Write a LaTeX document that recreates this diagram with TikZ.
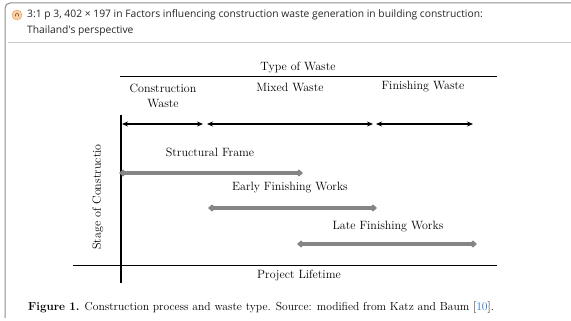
\documentclass[tikz,border=0pt]{standalone}
\usepackage{fontspec}
\newfontfamily\headfont{Open Sans}
\usetikzlibrary{arrows.meta}
\definecolor{linkblue}{RGB}{40,120,200}
\definecolor{iconorange}{RGB}{240,150,70}
\begin{document}
\begin{tikzpicture}[x=1pt,y=-1pt,
    txt/.style={font=\fontsize{12}{14}\selectfont, inner sep=1pt},
    head/.style={font=\headfont\fontsize{10.3}{12}\selectfont, text=black!85, inner sep=0pt, anchor=west},
    span/.style={{Stealth[length=6pt,width=5pt]}-{Stealth[length=6pt,width=5pt]}, line width=1.4pt},
    stage/.style={{Diamond[length=8pt,width=7pt]}-{Diamond[length=8pt,width=7pt]}, line width=3.2pt, draw=black!48},
    axis/.style={line width=1pt}
]
    \useasboundingbox (0,0) rectangle (571,321);

    % screenshot frame and header
    \draw[black!45, line width=1pt, rounded corners=5pt] (571,3) -- (5,3) -- (5,318);
    \draw[black!20, line width=0.8pt] (8,42) -- (571,42);
    \node[circle, draw=iconorange, fill=iconorange!45, minimum size=10pt, inner sep=0pt] (icon) at (17,15) {};
    \draw[iconorange!60!black, line width=0.6pt] ([yshift=-1.5pt]icon.center) ++(-1.5pt,0) -- ++(0,2pt) arc (180:0:1.5pt) -- ++(0,-2pt);
    \node[head] (head1) at (27,15) {3:1 p 3, 402 × 197 in Factors influencing construction waste generation in building construction:};
    \node[head] (head2) at (27,31) {Thailand's perspective};

    % type of waste
    \node[txt] (type) at (298,68) {Type of Waste};
    \coordinate (topL) at (120,77);
    \coordinate (topR) at (497,77);
    \draw[axis] (topL) -- (topR);
    \node[txt, align=center] (cw) at (163,96) {Construction\\[1pt]Waste};
    \node[txt] (mw) at (290,87) {Mixed Waste};
    \node[txt] (fw) at (423,87) {Finishing Waste};

    \coordinate (s0) at (122,124);
    \coordinate (s1) at (203,124);
    \coordinate (s2) at (207,124);
    \coordinate (s3) at (373,124);
    \coordinate (s4) at (376,124);
    \coordinate (s5) at (473,124);
    \draw[span] (s0) -- (s1);
    \draw[span] (s2) -- (s3);
    \draw[span] (s4) -- (s5);

    % axes
    \coordinate (vTop) at (121,115);
    \coordinate (vBot) at (121,283);
    \coordinate (hL) at (73,265);
    \coordinate (hR) at (497,265);
    \draw[line width=1.4pt] (vTop) -- (vBot);
    \draw[axis] (hL) -- (hR);
    \node[txt] (life) at (299,275) {Project Lifetime};
    \node[txt, rotate=90] (stg) at (98,197) {Stage of Constructio};

    % stages
    \node[txt] (sf) at (210,152) {Structural Frame};
    \coordinate (a0) at (119,173);
    \coordinate (a1) at (303,173);
    \draw[stage] (a0) -- (a1);
    \node[txt] (efw) at (290,188) {Early Finishing Works};
    \coordinate (b0) at (208,208);
    \coordinate (b1) at (377,208);
    \draw[stage] (b0) -- (b1);
    \node[txt] (lfw) at (388,227) {Late Finishing Works};
    \coordinate (c0) at (297,244);
    \coordinate (c1) at (477,244);
    \draw[stage] (c0) -- (c1);

    % caption
    \node[font=\fontsize{11.6}{13}\selectfont, inner sep=0pt, anchor=west] (cap) at (28,308)
        {\textbf{Figure 1.} Construction process and waste type. Source: modified from Katz and Baum [\textcolor{linkblue}{10}].};
\end{tikzpicture}
\end{document}
